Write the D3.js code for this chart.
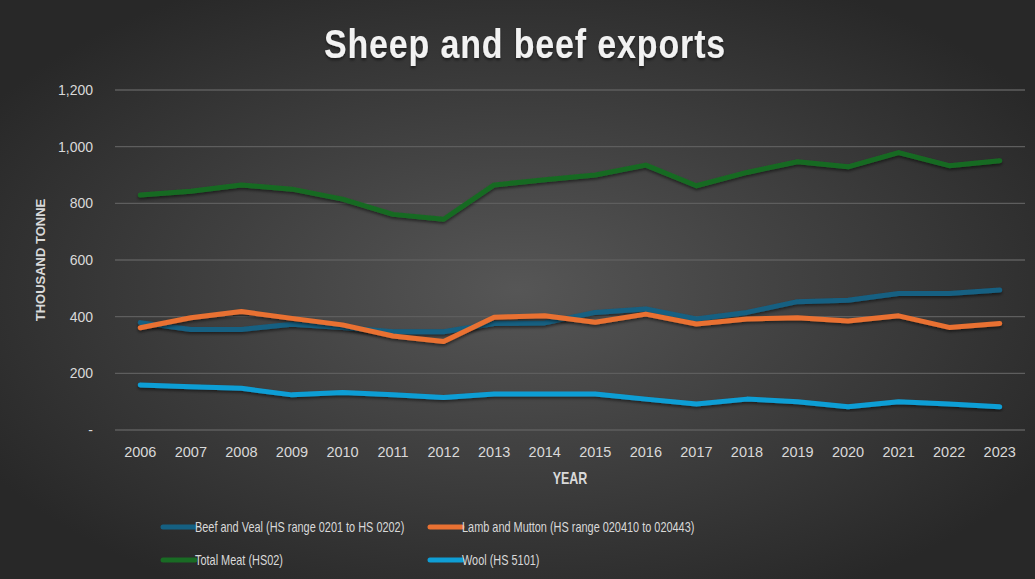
<!DOCTYPE html>
<html>
<head>
<meta charset="utf-8">
<script src="https://cdn.jsdelivr.net/npm/d3@7"></script>
<style>
  body { margin: 0; background: #fff; }
  svg { display: block; }
  text { font-family: "Liberation Sans", Arial, sans-serif; }
</style>
</head>
<body>
<svg id="chart"></svg>
<script>
/* data */
const years = ["2006","2007","2008","2009","2010","2011","2012","2013","2014","2015",
               "2016","2017","2018","2019","2020","2021","2022","2023"]
const beefVeal = [379, 355, 355, 373, 362, 347, 347, 376, 378, 415, 427, 392, 415, 453, 458, 482, 482, 494]
const lambMutton = [361, 396, 418, 394, 371, 332, 312, 398, 403, 380, 409, 374, 392, 396, 385, 403, 362, 376]
const totalMeat = [829, 843, 865, 850, 815, 761, 744, 865, 883, 900, 935, 862, 909, 947, 929, 979, 933, 950]
const wool = [159, 153, 147, 124, 132, 124, 115, 127, 127, 127, 109, 92, 109, 100, 82, 100, 92, 82]
const yTicks = [0, 200, 400, 600, 800, 1000, 1200]

const series = [
    { name: "Beef and Veal (HS range 0201 to HS 0202)", values: beefVeal, color: "#156082" },
    { name: "Lamb and Mutton (HS range 020410 to 020443)", values: lambMutton, color: "#E97132" },
    { name: "Total Meat (HS02)", values: totalMeat, color: "#196B24" },
    { name: "Wool (HS 5101)", values: wool, color: "#0F9ED5" }
]

const width = 1035, height = 579
const margin = { left: 115, right: 10, top: 90, bottom: 149 }
const squeeze = 0.78   // no condensed font installed, so narrow text by hand

const svg = d3.select("#chart").attr("width", width).attr("height", height)
const defs = svg.append("defs")

const bg = defs.append("radialGradient").attr("id", "bg")
    .attr("cx", "50%").attr("cy", "50%").attr("r", "60%")
bg.append("stop").attr("offset", "0%").attr("stop-color", "#565656")
bg.append("stop").attr("offset", "100%").attr("stop-color", "#282828")

const shadow = defs.append("filter").attr("id", "shadow")
    .attr("x", "-5%").attr("y", "-20%").attr("width", "110%").attr("height", "140%")
shadow.append("feDropShadow").attr("dx", 0).attr("dy", 2).attr("stdDeviation", 1.5)
    .attr("flood-color", "#000").attr("flood-opacity", 0.5)

svg.append("rect").attr("width", width).attr("height", height).attr("fill", "url(#bg)")

const x = d3.scaleBand()
    .domain(years)
    .range([margin.left, width - margin.right])

const y = d3.scaleLinear()
    .domain([0, 1200])
    .range([height - margin.bottom, margin.top])

// gridlines
svg.append("g")
    .selectAll("line")
    .data(yTicks)
    .enter()
    .append("line")
    .attr("x1", margin.left)
    .attr("x2", width - margin.right)
    .attr("y1", d => y(d))
    .attr("y2", d => y(d))
    .attr("stroke", "#5e5e5e")
    .attr("stroke-width", 1.3)

// y axis
const yAxis = svg.append("g")
    .attr("transform", "translate(" + (margin.left - 19) + ",0)")
    .call(d3.axisLeft(y).tickValues(yTicks).tickSize(0)
        .tickFormat(d => d === 0 ? "-" : d3.format(",")(d)))
yAxis.select(".domain").remove()
yAxis.selectAll("text")
    .attr("fill", "#d9d9d9")
    .attr("font-size", 14)

// x axis
const xAxis = svg.append("g")
    .attr("transform", "translate(0," + (height - margin.bottom + 14) + ")")
    .call(d3.axisBottom(x).tickSize(0))
xAxis.select(".domain").remove()
xAxis.selectAll("text")
    .attr("fill", "#d9d9d9")
    .attr("font-size", 14.5)

// axis titles
svg.append("text")
    .attr("transform", "translate(570,484) scale(" + squeeze + ",1)")
    .attr("text-anchor", "middle")
    .attr("fill", "#d9d9d9")
    .attr("font-size", 16)
    .attr("font-weight", "bold")
    .text("YEAR")

svg.append("text")
    .attr("transform", "translate(45,260) rotate(-90)")
    .attr("text-anchor", "middle")
    .attr("fill", "#d9d9d9")
    .attr("font-size", 13)
    .attr("font-weight", "bold")
    .text("THOUSAND TONNE")

// title
svg.append("text")
    .attr("transform", "translate(525,58) scale(0.85,1)")
    .attr("text-anchor", "middle")
    .attr("fill", "#f2f2f2")
    .attr("font-size", 40)
    .attr("font-weight", "bold")
    .attr("filter", "url(#shadow)")
    .style("letter-spacing", "1px")
    .text("Sheep and beef exports")

// lines
const line = d3.line()
    .x((d, i) => x(years[i]) + x.bandwidth() / 2)
    .y(d => y(d))

svg.append("g")
    .selectAll("path")
    .data(series)
    .enter()
    .append("path")
    .attr("d", d => line(d.values))
    .attr("fill", "none")
    .attr("stroke", d => d.color)
    .attr("stroke-width", 5)
    .attr("stroke-linejoin", "round")
    .attr("stroke-linecap", "round")
    .attr("filter", "url(#shadow)")

// legend
const legendPos = [[163, 527], [430, 527], [163, 560], [430, 560]]
const item = svg.append("g")
    .selectAll("g")
    .data(series)
    .enter()
    .append("g")
    .attr("transform", (d, i) => "translate(" + legendPos[i][0] + "," + legendPos[i][1] + ")")

item.append("line")
    .attr("x1", 0).attr("x2", 32)
    .attr("stroke", d => d.color)
    .attr("stroke-width", 5)
    .attr("stroke-linecap", "round")

item.append("text")
    .attr("transform", "translate(32,0) scale(" + squeeze + ",1)")
    .attr("dy", "0.35em")
    .attr("fill", "#d9d9d9")
    .attr("font-size", 14)
    .text(d => d.name)
</script>
</body>
</html>
